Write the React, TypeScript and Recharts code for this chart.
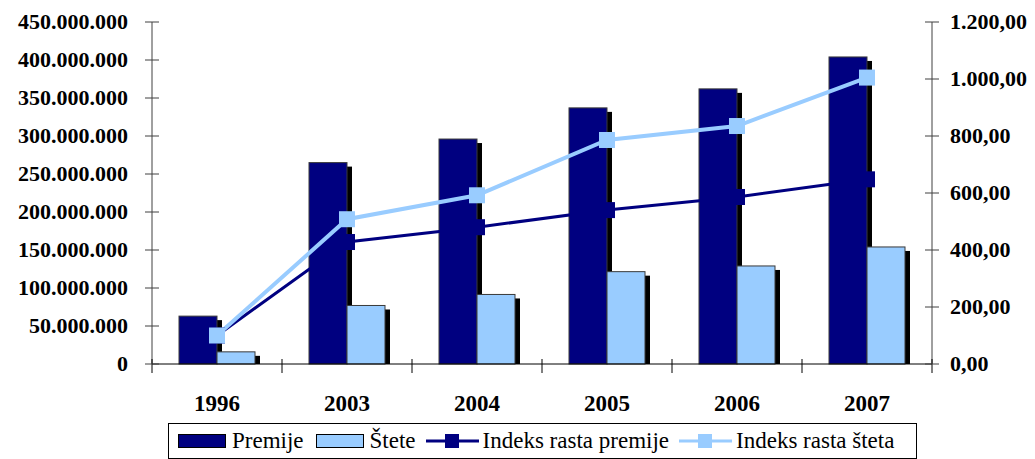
import React from 'react';
import { ComposedChart, Bar, Line, XAxis, YAxis, Legend } from 'recharts';

const categories = ['1996', '2003', '2004', '2005', '2006', '2007'];
const premije = [63000000, 265000000, 296000000, 337000000, 362000000, 404000000];
const stete = [16000000, 77000000, 91500000, 121500000, 129000000, 154000000];
const indeksPremije = [100, 428, 480, 540, 586, 648];
const indeksStete = [100, 508, 592, 786, 835, 1005];
const leftTicks = [0, 50000000, 100000000, 150000000, 200000000, 250000000, 300000000, 350000000, 400000000, 450000000];
const rightTicks = [0, 200, 400, 600, 800, 1000, 1200];

const NAVY = '#000080';
const LIGHT = '#99CCFF';

const data = categories.map((c, i) => ({
  year: c,
  premije: premije[i],
  stete: stete[i],
  ip: indeksPremije[i],
  is: indeksStete[i],
}));

const groupThousands = (s: string) => s.replace(/\B(?=(\d{3})+(?!\d))/g, '.');
const fmtLeft = (v: number) => groupThousands(String(Math.round(v)));
const fmtRight = (v: number) => {
  const [a, b] = v.toFixed(2).split('.');
  return groupThousands(a) + ',' + b;
};

const FONT = "'Liberation Serif', 'DejaVu Serif', serif";

const ShadowBar = (props: any) => {
  const { x, y, width, height, fill } = props;
  if (!height || height <= 0) return null;
  const base = y + height;
  return (
    <g>
      <rect x={x + 5} y={y + 4} width={width} height={Math.max(0, base - y - 4)} fill="#000" />
      <rect x={x} y={y} width={width} height={height} fill={fill} stroke="#3a3a3a" strokeWidth={1} />
    </g>
  );
};

const SquareDot = (color: string) => (props: any) => {
  const { cx, cy, index } = props;
  if (cx == null || cy == null) return null;
  return <rect key={index} x={cx - 8} y={cy - 8} width={16} height={16} fill={color} />;
};

const LeftTick = (props: any) => {
  const { x, y, payload } = props;
  const ax = x + 24;
  return (
    <g>
      <line x1={ax - 7} x2={ax + 7} y1={y} y2={y} stroke="#404040" strokeWidth={1} />
      <text x={x} y={y} dy="0.34em" textAnchor="end" style={{ fontFamily: FONT, fontWeight: 'bold', fontSize: 22 }} fill="#000">
        {fmtLeft(payload.value)}
      </text>
    </g>
  );
};

const RightTick = (props: any) => {
  const { x, y, payload } = props;
  const ax = x - 18;
  return (
    <g>
      <line x1={ax - 7} x2={ax + 7} y1={y} y2={y} stroke="#404040" strokeWidth={1} />
      <text x={x} y={y} dy="0.34em" textAnchor="start" style={{ fontFamily: FONT, fontWeight: 'bold', fontSize: 22 }} fill="#000">
        {fmtRight(payload.value)}
      </text>
    </g>
  );
};

const BottomTick = (props: any) => {
  const { x, y, payload, index } = props;
  const half = 65;
  return (
    <g>
      <line x1={x - half} x2={x - half} y1={y - 7} y2={y + 7} stroke="#000" strokeWidth={1} />
      {index === categories.length - 1 && (
        <line x1={x + half} x2={x + half} y1={y - 7} y2={y + 7} stroke="#000" strokeWidth={1} />
      )}
      <text x={x} y={y + 45} textAnchor="middle" style={{ fontFamily: FONT, fontWeight: 'bold', fontSize: 23 }} fill="#000">
        {payload.value}
      </text>
    </g>
  );
};

const LegendContent = () => {
  const text: React.CSSProperties = { fontFamily: FONT, fontSize: 23, color: '#000', lineHeight: '24px' };
  const swatch = (c: string) => (
    <span style={{ display: 'inline-block', width: 48, height: 14, background: c, border: '1px solid #000', boxSizing: 'border-box' }} />
  );
  const lineIcon = (c: string) => (
    <svg width={53} height={16} style={{ display: 'block' }}>
      <line x1={0} x2={53} y1={8} y2={8} stroke={c} strokeWidth={3} />
      <rect x={19} y={1} width={14} height={14} fill={c} />
    </svg>
  );
  return (
    <div
      style={{
        boxSizing: 'border-box',
        height: 36,
        width: 749,
        border: '1px solid #000',
        display: 'flex',
        alignItems: 'center',
        paddingLeft: 9,
        background: '#fff',
      }}
    >
      {swatch(NAVY)}
      <span style={{ ...text, marginLeft: 6, marginRight: 12 }}>Premije</span>
      {swatch(LIGHT)}
      <span style={{ ...text, marginLeft: 6, marginRight: 10 }}>Štete</span>
      {lineIcon(NAVY)}
      <span style={{ ...text, marginLeft: 4, marginRight: 10 }}>Indeks rasta premije</span>
      {lineIcon(LIGHT)}
      <span style={{ ...text, marginLeft: 4 }}>Indeks rasta šteta</span>
    </div>
  );
};

export default function App() {
  return (
    <div style={{ position: 'absolute', left: 0, top: 0, width: 1035, height: 459, background: '#fff', fontFamily: FONT }}>
      <ComposedChart
        width={1035}
        height={459}
        data={data}
        margin={{ top: 22, right: 0, bottom: 0, left: 0 }}
        barGap={0}
      >
        <XAxis
          dataKey="year"
          height={59}
          tickSize={0}
          tickLine={false}
          tick={<BottomTick />}
          axisLine={{ stroke: '#000', strokeWidth: 1 }}
          interval={0}
        />
        <YAxis
          yAxisId="left"
          orientation="left"
          width={152}
          domain={[0, 450000000]}
          ticks={leftTicks}
          tickSize={0}
          tickMargin={24}
          tickLine={false}
          tick={<LeftTick />}
          axisLine={{ stroke: '#404040', strokeWidth: 1 }}
          interval={0}
        />
        <YAxis
          yAxisId="right"
          orientation="right"
          width={103}
          domain={[0, 1200]}
          ticks={rightTicks}
          tickSize={0}
          tickMargin={18}
          tickLine={false}
          tick={<RightTick />}
          axisLine={{ stroke: '#404040', strokeWidth: 1 }}
          interval={0}
        />
        <Legend
          verticalAlign="bottom"
          content={<LegendContent />}
          wrapperStyle={{ left: 168, width: 749, bottom: 0 }}
        />
        <Bar yAxisId="left" dataKey="premije" name="Premije" fill={NAVY} barSize={38} shape={<ShadowBar />} isAnimationActive={false} />
        <Bar yAxisId="left" dataKey="stete" name="Štete" fill={LIGHT} barSize={38} shape={<ShadowBar />} isAnimationActive={false} />
        <Line yAxisId="right" dataKey="ip" name="Indeks rasta premije" stroke={NAVY} strokeWidth={3} dot={SquareDot(NAVY)} activeDot={false} isAnimationActive={false} />
        <Line yAxisId="right" dataKey="is" name="Indeks rasta šteta" stroke={LIGHT} strokeWidth={4} dot={SquareDot(LIGHT)} activeDot={false} isAnimationActive={false} />
      </ComposedChart>
    </div>
  );
}
